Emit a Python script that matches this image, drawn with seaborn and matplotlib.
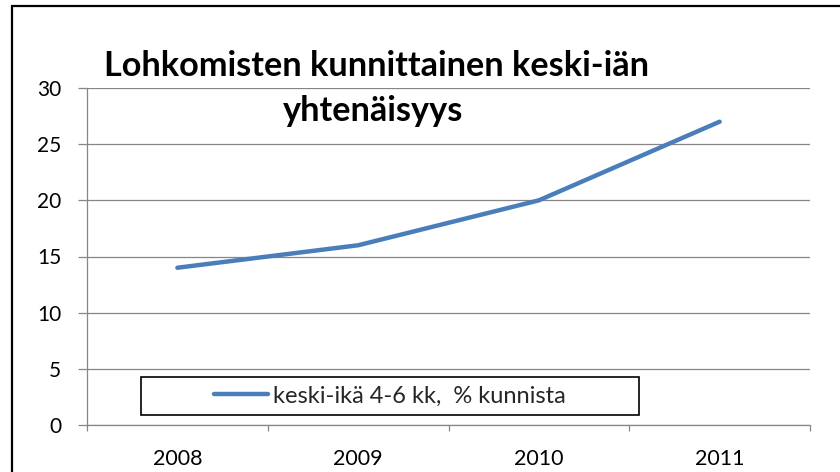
import matplotlib.pyplot as plt
import seaborn as sns
import pandas as pd
from matplotlib.patches import Rectangle

# Data
years = [2008, 2009, 2010, 2011]
share = [14, 16, 20, 27]
series_label = "keski-ikä 4-6 kk,  % kunnista"
title_lines = ["Lohkomisten kunnittainen keski-iän", "yhtenäisyys"]

df = pd.DataFrame({"year": years, "share": share})

sns.set_theme(style="white")
plt.rcParams['font.family'] = ['Lato', 'DejaVu Sans']

fig = plt.figure(figsize=(8.4, 4.72), dpi=100)
ax = fig.add_axes([87 / 840, 1 - 425 / 472, (810 - 87) / 840, (425 - 88) / 472])

sns.lineplot(data=df, x="year", y="share", ax=ax, color="#4A7EBB",
             linewidth=3.2, label=series_label, legend=False)

grid_col = "#868686"
ax.set_xlim(years[0] - 0.5, years[-1] + 0.5)
ax.set_ylim(0, 30)
ax.set_yticks(range(0, 31, 5))
ax.set_xticks(years)
ax.set_xticklabels([str(y) for y in years])
ax.set_xticks([y - 0.5 for y in years] + [years[-1] + 0.5], minor=True)
ax.yaxis.grid(True, color=grid_col, linewidth=0.9)
ax.set_axisbelow(True)
ax.set_xlabel("")
ax.set_ylabel("")

for side in ["top", "right"]:
    ax.spines[side].set_visible(False)
for side in ["left", "bottom"]:
    ax.spines[side].set_color(grid_col)
    ax.spines[side].set_linewidth(0.9)

ax.tick_params(axis="y", which="major", direction="out", length=6.5, width=0.9,
               color=grid_col, pad=12, labelsize=15, labelcolor="black", left=True)
ax.tick_params(axis="x", which="major", length=0, pad=17, labelsize=15.5,
               labelcolor="black", bottom=True)
ax.tick_params(axis="x", which="minor", direction="out", length=4.5, width=0.9,
               color=grid_col, bottom=True)

# Title inside the chart area
fig.text(376 / 840, 1 - 76 / 472, title_lines[0], ha="center", va="baseline",
         fontsize=24.7, fontweight="bold", color="black")
fig.text(373 / 840, 1 - 121 / 472, title_lines[1], ha="center", va="baseline",
         fontsize=24.7, fontweight="bold", color="black")

# Legend box
bx0, bx1, by0, by1 = 141 / 840, 639 / 840, 1 - 415 / 472, 1 - 377 / 472
fig.patches.append(Rectangle((bx0, by0), bx1 - bx0, by1 - by0, transform=fig.transFigure,
                             facecolor="white", edgecolor="black", linewidth=1.2, zorder=3))
handles, labels = ax.get_legend_handles_labels()
leg = fig.legend(handles, labels, loc="center", bbox_to_anchor=((bx0 + bx1) / 2, (by0 + by1) / 2),
                 frameon=False, fontsize=17, handlelength=2.3, handletextpad=0.2)
leg.set_zorder(4)

# Outer chart border (right and bottom edges run off the image)
fig.patches.append(Rectangle((12 / 840, -0.5), 2, 1.5 - 6 / 472, transform=fig.transFigure,
                             facecolor="none", edgecolor="black", linewidth=1.6))

fig.savefig("out.png", dpi=100)
